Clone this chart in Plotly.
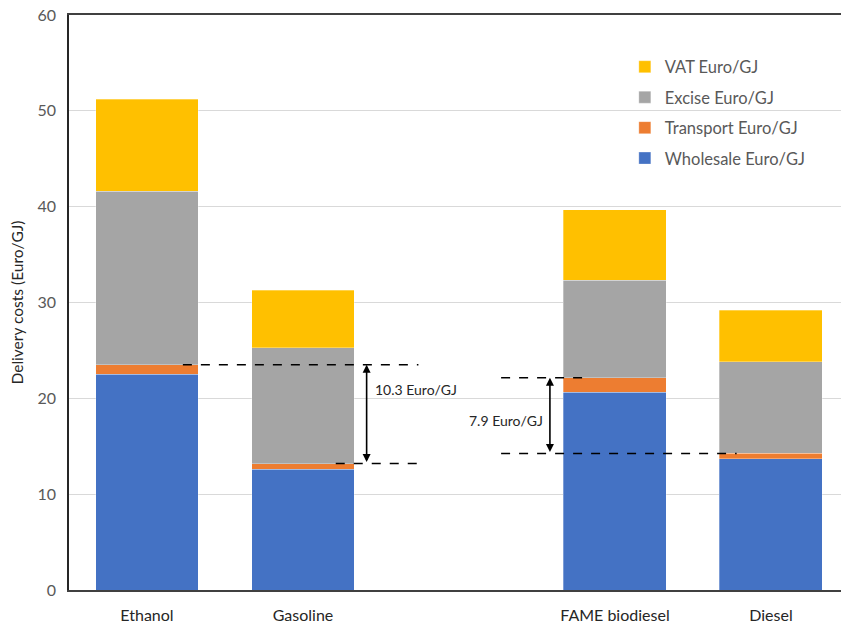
import plotly.graph_objects as go

categories = ["Ethanol", "Gasoline", " ", "FAME biodiesel", "Diesel"]
wholesale = [22.5, 12.6, None, 20.65, 13.7]
transport = [1.0, 0.6, None, 1.5, 0.55]
excise = [18.1, 12.1, None, 10.15, 9.55]
vat = [9.6, 6.0, None, 7.4, 5.4]

series_names = ["Wholesale Euro/GJ", "Transport Euro/GJ", "Excise Euro/GJ", "VAT Euro/GJ"]
series_vals = [wholesale, transport, excise, vat]
colors = ["#4472C4", "#ED7D31", "#A5A5A5", "#FFC000"]

fig = go.Figure()
for i, (name, vals, c) in enumerate(zip(series_names, series_vals, colors)):
    fig.add_trace(go.Bar(x=categories, y=vals, name=name, marker_color=c,
                         marker_line_color="rgba(255,255,255,0.6)", marker_line_width=0.5,
                         width=0.66, legendgroup=name, legendrank=len(series_names) - i))

# differences derived from data
eth_wt = wholesale[0] + transport[0]
gas_wt = wholesale[1] + transport[1]
fame_wt = wholesale[3] + transport[3]
die_wt = wholesale[4] + transport[4]
diff1 = round(eth_wt - gas_wt, 1)
diff2 = round(fame_wt - die_wt, 1)

dash = dict(color="black", width=1.5, dash="dash")
shapes = [
    dict(type="line", xref="x", yref="y", x0=0.23, x1=1.74, y0=eth_wt, y1=eth_wt, line=dash),
    dict(type="line", xref="x", yref="y", x0=1.21, x1=1.74, y0=gas_wt, y1=gas_wt, line=dash),
    dict(type="line", xref="x", yref="y", x0=2.27, x1=2.84, y0=fame_wt, y1=fame_wt, line=dash),
    dict(type="line", xref="x", yref="y", x0=2.27, x1=3.78, y0=die_wt, y1=die_wt, line=dash),
]

annotations = [
    dict(x=1.408, y=eth_wt, ax=1.408, ay=gas_wt, xref="x", yref="y", axref="x", ayref="y",
         text="", showarrow=True, arrowhead=2, arrowside="end+start", arrowsize=1,
         arrowwidth=1.6, arrowcolor="black"),
    dict(x=2.583, y=fame_wt, ax=2.583, ay=die_wt, xref="x", yref="y", axref="x", ayref="y",
         text="", showarrow=True, arrowhead=2, arrowside="end+start", arrowsize=1,
         arrowwidth=1.6, arrowcolor="black"),
    dict(x=1.45, y=20.9, xref="x", yref="y", text=f"{diff1} Euro/GJ", showarrow=False,
         xanchor="left", yanchor="middle", font=dict(family="Lato", size=14, color="#262626")),
    dict(x=2.55, y=17.7, xref="x", yref="y", text=f"{diff2} Euro/GJ", showarrow=False,
         xanchor="right", yanchor="middle", font=dict(family="Lato", size=14, color="#262626")),
]

fig.update_layout(
    width=841, height=625,
    margin=dict(l=69, r=0, t=15, b=35),
    barmode="stack",
    plot_bgcolor="white", paper_bgcolor="white",
    font=dict(family="Lato", color="#595959"),
    shapes=shapes,
    annotations=annotations,
    legend=dict(x=0.72, y=0.94, xanchor="left", yanchor="top", traceorder="grouped",
                font=dict(family="Lato", size=16.5, color="#595959"),
                itemwidth=30, tracegroupgap=6, bgcolor="rgba(0,0,0,0)"),
    showlegend=True,
)
fig.update_xaxes(type="category", range=[-0.5, 4.449], showline=True, linecolor="#404040",
                 linewidth=1.5, mirror=True, ticks="", showgrid=False,
                 ticklabelstandoff=10,
                 tickfont=dict(family="Lato", size=16, color="#262626"))
fig.update_yaxes(range=[0, 60], dtick=10, showline=True, linecolor="#262626", linewidth=1.5,
                 showgrid=True, gridcolor="#D9D9D9", gridwidth=1, zeroline=False,
                 ticks="", tickfont=dict(family="Lato", size=16, color="#595959"),
                 ticklabelstandoff=8,
                 title=dict(text="Delivery costs (Euro/GJ)", standoff=10,
                            font=dict(family="Lato", size=15.5, color="#262626")))

fig.write_html("out.html")
